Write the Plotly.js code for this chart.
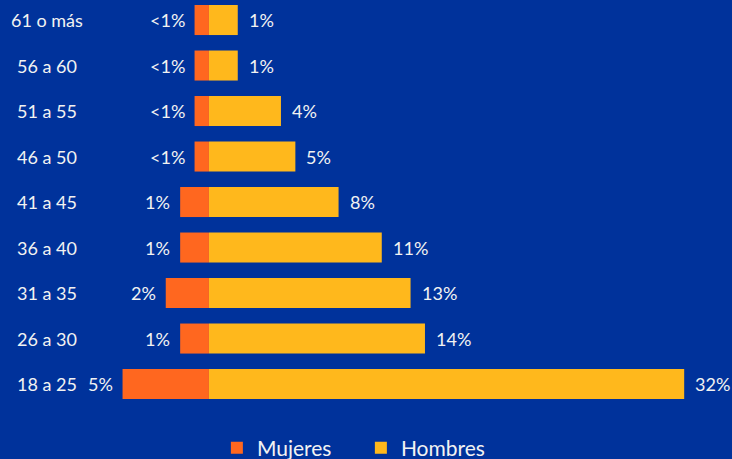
<!DOCTYPE html>
<html>
<head>
<meta charset="utf-8">
<script src="https://cdn.plot.ly/plotly-3.0.1.min.js"></script>
<style>html,body{margin:0;padding:0;background:#00329B;}#chart{width:732px;height:459px;}</style>
</head>
<body>
<div id="chart"></div>
<script>
// Age groups, bottom to top
const categories = ['18 a 25','26 a 30','31 a 35','36 a 40','41 a 45','46 a 50','51 a 55','56 a 60','61 o más'];
// Percent values (bars in the original carry a 1-point base stub)
const mujeres = [5, 1, 2, 1, 1, 0, 0, 0, 0];
const hombres = [32, 14, 13, 11, 8, 5, 4, 1, 1];
const mujeresLabels = ['5%','1%','2%','1%','1%','<1%','<1%','<1%','<1%'];
const hombresLabels = ['32%','14%','13%','11%','8%','5%','4%','1%','1%'];
const STUB = 1;

const font = 'Lato, "Open Sans", sans-serif';
const white = '#F2F2F2';

const traces = [
  {type:'bar', orientation:'h', name:'Mujeres', y:categories,
   x:mujeres.map(v => -(v + STUB)), marker:{color:'#FF671F'}, width:0.66, hoverinfo:'skip'},
  {type:'bar', orientation:'h', name:'Hombres', y:categories,
   x:hombres.map(v => v + STUB), marker:{color:'#FFB81C'}, width:0.66, hoverinfo:'skip'}
];

const annotations = [];
categories.forEach((c, i) => {
  annotations.push({x:0.064, xref:'paper', y:c, yref:'y', text:c, showarrow:false,
    xanchor:'center', font:{family:font, size:18, color:white}});
  annotations.push({x:-(mujeres[i] + STUB), xref:'x', y:c, yref:'y', text:mujeresLabels[i], showarrow:false,
    xanchor:'right', xshift:-8, font:{family:font, size:18, color:white}});
  annotations.push({x:hombres[i] + STUB, xref:'x', y:c, yref:'y', text:hombresLabels[i], showarrow:false,
    xanchor:'left', xshift:9, font:{family:font, size:18, color:white}});
});

const layout = {
  width:732, height:459,
  paper_bgcolor:'#00329B', plot_bgcolor:'#00329B',
  margin:{l:0, r:0, t:0, b:39},
  barmode:'relative',
  showlegend:true,
  legend:{orientation:'h', x:0.493, xanchor:'center', xref:'container', y:0.024, yanchor:'middle', yref:'container',
    font:{family:font, size:21, color:white}, bgcolor:'rgba(0,0,0,0)', itemwidth:30, entrywidth:99},
  xaxis:{range:[-14.51, 36.32], showgrid:false, zeroline:false, showticklabels:false, fixedrange:true, automargin:false},
  yaxis:{type:'category', range:[-0.79, 8.44], showgrid:false, zeroline:false, showticklabels:false, fixedrange:true, automargin:false},
  annotations:annotations
};

Plotly.newPlot('chart', traces, layout, {displayModeBar:false, staticPlot:true});
</script>
</body>
</html>
